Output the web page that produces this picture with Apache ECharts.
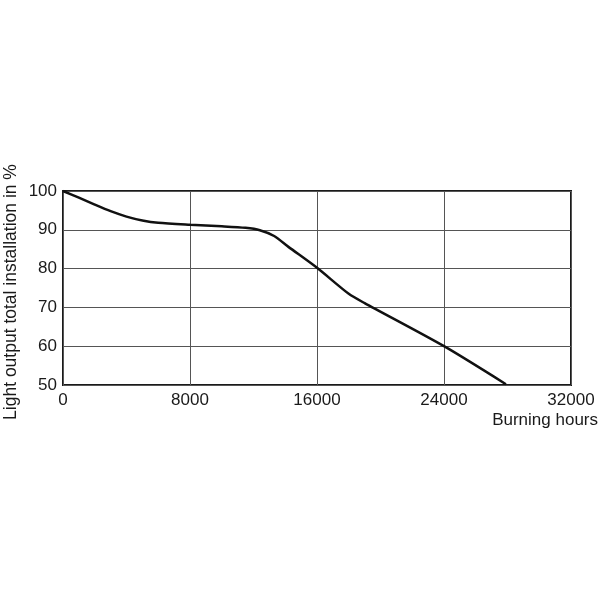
<!DOCTYPE html>
<html>
<head>
<meta charset="utf-8">
<script src="https://cdn.jsdelivr.net/npm/echarts@6/dist/echarts.min.js"></script>
<style>html,body{margin:0;padding:0;background:#fff}#c{width:600px;height:600px}</style>
</head>
<body>
<div id="c"></div>
<script>
var hours = [0, 1000, 2000, 3000, 4000, 5000, 6000, 8000, 10000, 11500, 12400, 13300, 14200, 16000, 18000, 19000, 24000, 27900];
var output = [100, 98.3, 96.5, 94.8, 93.4, 92.4, 91.8, 91.3, 90.9, 90.5, 89.9, 88.4, 85.6, 80.2, 73.5, 71.1, 60.0, 50.2];
var xTicks = [0, 8000, 16000, 24000, 32000];
var yTicks = [50, 60, 70, 80, 90, 100];
var xTitle = 'Burning hours';
var yTitle = 'Light output total installation in %';

var font = 'Liberation Sans, Arial, sans-serif';
var chart = echarts.init(document.getElementById('c'));
chart.setOption({
  animation: false,
  backgroundColor: '#fff',
  grid: {left: 63, right: 29, top: 191, bottom: 215, show: true, borderColor: '#1a1a1a', borderWidth: 2, containLabel: false, outerBoundsMode: 'none'},
  xAxis: {
    type: 'value', min: xTicks[0], max: xTicks[xTicks.length - 1], interval: 8000,
    axisLine: {show: false}, axisTick: {show: false},
    axisLabel: {color: '#1a1a1a', fontSize: 17, fontFamily: font, margin: 7, showMaxLabel: true, showMinLabel: true,
      formatter: function (v) { return String(v); }},
    splitLine: {show: true, lineStyle: {color: '#555', width: 1}}
  },
  yAxis: {
    type: 'value', min: yTicks[0], max: yTicks[yTicks.length - 1], interval: 10,
    axisLine: {show: false}, axisTick: {show: false},
    axisLabel: {color: '#1a1a1a', fontSize: 17, fontFamily: font, margin: 6,
      formatter: function (v) { return String(v); }},
    splitLine: {show: true, lineStyle: {color: '#555', width: 1}}
  },
  graphic: [{
    type: 'text', right: 2, top: 412,
    style: {text: xTitle, fill: '#1a1a1a', font: '17px ' + font}
  }, {
    type: 'text', x: 11, y: 292, rotation: Math.PI / 2,
    style: {text: yTitle, fill: '#1a1a1a', font: '17.5px ' + font, align: 'center', verticalAlign: 'middle'}
  }],
  series: [{
    type: 'line', smooth: 0.25, symbol: 'none',
    lineStyle: {color: '#111', width: 2.5},
    data: hours.map(function (h, i) { return [h, output[i]]; })
  }]
});
</script>
</body>
</html>
